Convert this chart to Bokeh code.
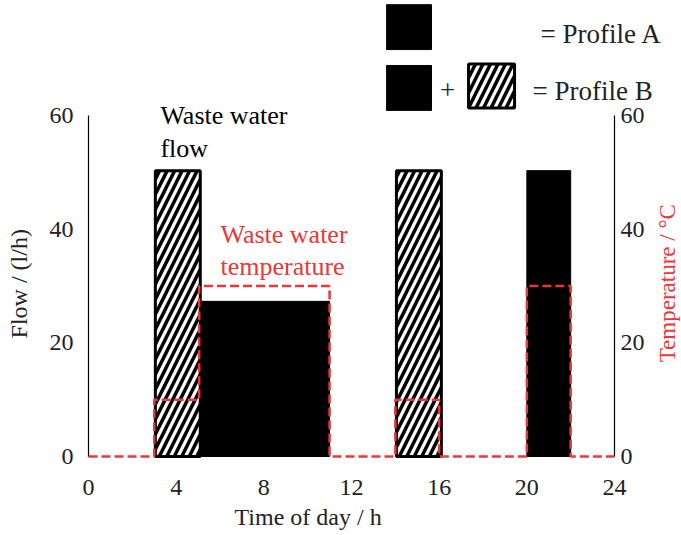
import math
from bokeh.plotting import figure
from bokeh.models import Range1d, LinearAxis, FixedTicker, Label, ColumnDataSource
from bokeh.embed import file_html
from bokeh.resources import INLINE

# ---------------- data ----------------
bar_start = [3.05, 5.1, 14.05, 20.0]
bar_end = [5.1, 11.0, 16.1, 22.0]
bar_flow = [50.3, 27.3, 50.3, 50.3]
bar_hatched = [True, False, True, False]   # hatched = extra draw of profile B

temp_time = [0, 3, 5.05, 11, 14, 16, 20, 22, 24]
temp_value = [0, 10, 30, 0, 10, 0, 30, 0, 0]

x_ticks = [0, 4, 8, 12, 16, 20, 24]
flow_ticks = [0, 20, 40, 60]
temp_ticks = [0, 20, 40, 60]

# ---------------- style / layout ----------------
FONT = "Liberation Serif"
RED = "#ee3636"
TXT = "#222222"
W, H = 681, 535
PX_H, PX_U = 21.917, 5.6833        # pixels per hour / per unit
OX, OY = 88, 456                   # pixel position of the origin
HATCH = dict(hatch_pattern="/", hatch_color="black", hatch_scale=15, hatch_weight=3.5)

p = figure(width=W, height=H, output_backend="svg", toolbar_location=None,
           x_range=Range1d(-OX / PX_H, (W - OX) / PX_H),
           y_range=Range1d(-(H - OY) / PX_U, OY / PX_U),
           x_axis_location=None, y_axis_location=None,
           min_border_left=0, min_border_right=0, min_border_top=0,
           min_border_bottom=0)
p.outline_line_color = None
p.xgrid.visible = False
p.ygrid.visible = False
p.background_fill_color = "white"
p.border_fill_color = "white"

def style_axis(ax):
    ax.major_tick_line_color = None
    ax.minor_tick_line_color = None
    ax.major_tick_out = 0
    ax.major_tick_in = 0
    ax.minor_tick_out = 0
    ax.minor_tick_in = 0
    ax.major_label_text_font = FONT
    ax.major_label_text_font_size = "24px"
    ax.major_label_text_color = TXT

xa = LinearAxis(fixed_location=0, ticker=FixedTicker(ticks=x_ticks))
style_axis(xa)
xa.axis_line_color = None
xa.major_label_standoff = 23
p.add_layout(xa, "below")

ya = LinearAxis(fixed_location=0, ticker=FixedTicker(ticks=flow_ticks), bounds=(0, 60))
style_axis(ya)
ya.axis_line_color = "black"
ya.axis_line_width = 1.2
ya.major_label_standoff = 15
p.add_layout(ya, "left")

p.extra_y_ranges = {"temp": Range1d(-(H - OY) / PX_U, OY / PX_U)}
ra = LinearAxis(y_range_name="temp", fixed_location=24,
                ticker=FixedTicker(ticks=temp_ticks), bounds=(0, 60))
style_axis(ra)
ra.axis_line_color = "black"
ra.axis_line_width = 1.2
ra.major_label_standoff = 6
p.add_layout(ra, "right")

# axis titles
p.add_layout(Label(x=-3.19, y=30.4, text="Flow / (l/h)", angle=math.pi / 2,
                   text_font=FONT, text_font_size="24px", text_color=TXT,
                   text_align="center", text_baseline="middle"))
p.add_layout(Label(x=26.42, y=31.0, text="Temperature  / °C", angle=math.pi / 2,
                   text_font=FONT, text_font_size="23px", text_color=RED,
                   text_align="center", text_baseline="middle"))
p.add_layout(Label(x=10.02, y=-10.7, text="Time of day / h",
                   text_font=FONT, text_font_size="24px", text_color=TXT,
                   text_align="center", text_baseline="middle"))

# ---------------- bars ----------------
solid = ColumnDataSource(dict(
    l=[s for s, h in zip(bar_start, bar_hatched) if not h],
    r=[e for e, h in zip(bar_end, bar_hatched) if not h],
    t=[f for f, h in zip(bar_flow, bar_hatched) if not h]))
hatch = ColumnDataSource(dict(
    l=[s for s, h in zip(bar_start, bar_hatched) if h],
    r=[e for e, h in zip(bar_end, bar_hatched) if h],
    t=[f for f, h in zip(bar_flow, bar_hatched) if h]))

p.quad(left="l", right="r", top="t", bottom=0, source=solid,
       fill_color="black", line_color="black", line_width=1)
p.quad(left="l", right="r", top="t", bottom=0, source=hatch,
       fill_color="white", line_color="black", line_width=3, **HATCH)

# ---------------- temperature ----------------
p.step(temp_time, temp_value, mode="after", line_color=RED, line_width=2.5,
       line_dash="9 4", y_range_name="temp")

# ---------------- annotations ----------------
p.add_layout(Label(x=3.28, y=62.5, text="Waste water\nflow", text_font=FONT,
                   text_font_size="26px", text_color="black",
                   text_baseline="top", text_line_height=1.12))
p.add_layout(Label(x=6.02, y=41.7, text="Waste water\ntemperature", text_font=FONT,
                   text_font_size="26px", text_color=RED,
                   text_baseline="top", text_line_height=1.12))

# ---------------- key (top right) ----------------
p.quad(left=[13.6], right=[15.65], bottom=[71.6], top=[79.5],
       fill_color="black", line_color="black")
p.quad(left=[13.6], right=[15.65], bottom=[60.9], top=[68.8],
       fill_color="black", line_color="black")
p.quad(left=[17.34], right=[19.44], bottom=[61.3], top=[69.06],
       fill_color="white", line_color="black", line_width=3, **HATCH)
p.add_layout(Label(x=16.38, y=64.5, text="+", text_font=FONT, text_font_size="27px",
                   text_color=TXT, text_align="center", text_baseline="middle"))
p.add_layout(Label(x=20.62, y=74.27, text="= Profile A", text_font=FONT,
                   text_font_size="27px", text_color=TXT,
                   text_baseline="middle"))
p.add_layout(Label(x=20.26, y=64.36, text="= Profile B", text_font=FONT,
                   text_font_size="27px", text_color=TXT,
                   text_baseline="middle"))

open("out.html", "w").write(file_html(p, INLINE))
